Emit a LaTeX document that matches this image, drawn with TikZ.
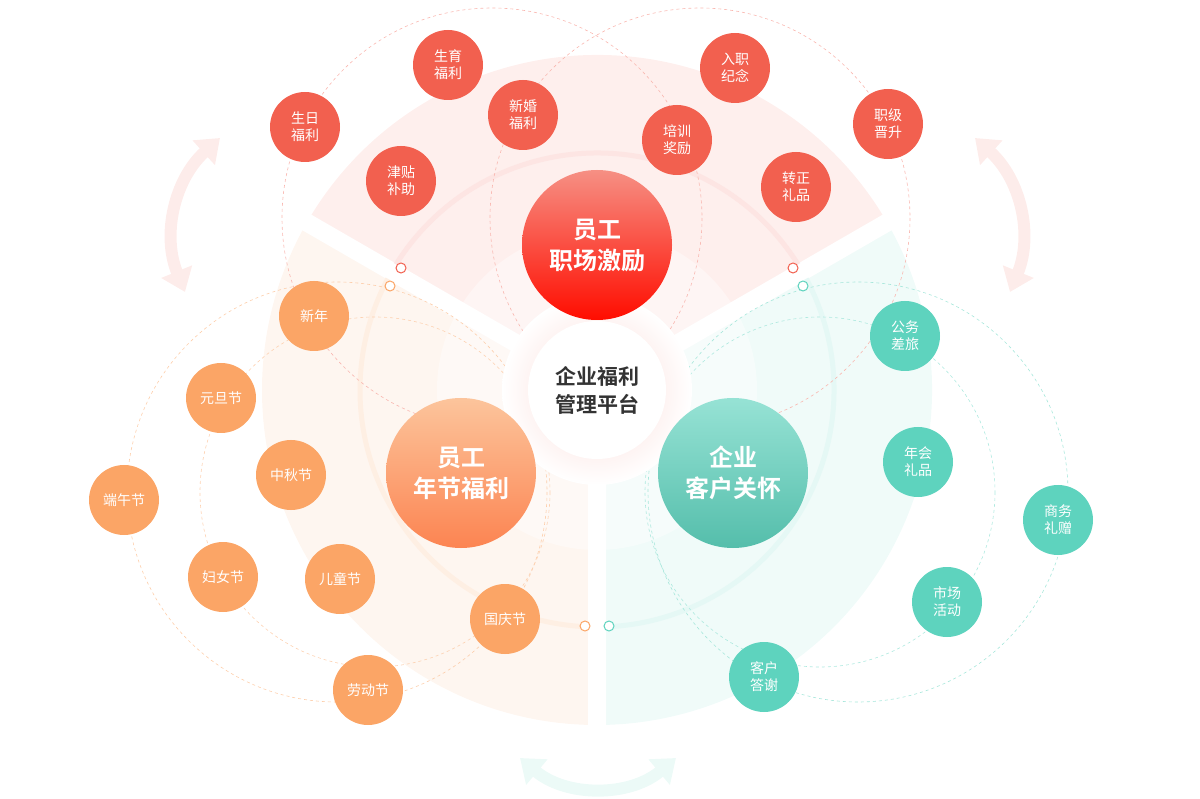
\documentclass[tikz,border=0pt]{standalone}
\usepackage{fontspec}
\setmainfont{Noto Sans CJK SC}
\newfontfamily\cjkb{Noto Sans CJK SC Bold}
\usetikzlibrary{arrows.meta}
\definecolor{rd}{HTML}{F2604F}
\definecolor{og}{HTML}{FBA566}
\definecolor{tl}{HTML}{5ED3BE}
\begin{document}
\begin{tikzpicture}[x=1pt,y=-1pt,
 sm/.style={circle,minimum size=70pt,inner sep=0pt,text=white,font=\fontsize{14}{17}\selectfont,align=center},
 big/.style={circle,minimum size=150pt,inner sep=0pt,text=white,font=\cjkb\fontsize{24}{31}\selectfont,align=center},
 dc/.style={dashed,dash pattern=on 3pt off 3pt,line width=0.6pt},
 mk/.style={circle,fill=white,minimum size=10pt,inner sep=0pt,line width=1pt},
 arr/.style={line width=12pt,{Triangle[length=22pt,width=32pt]}-{Triangle[length=22pt,width=32pt]}}]
\useasboundingbox (0,0) rectangle (1200,799);
\coordinate (c) at (597,390);
% sectors
\fill[rd!10] (c) -- ++(210:335) arc[start angle=210,end angle=330,radius=335] -- cycle;
\fill[og!10] (c) -- ++(90:335) arc[start angle=90,end angle=210,radius=335] -- cycle;
\fill[tl!9] (c) -- ++(-30:335) arc[start angle=-30,end angle=90,radius=335] -- cycle;
\fill[white,opacity=0.4] (c) circle (160);
\draw[white,line width=18pt] (c) -- ++(210:345) (c) -- ++(330:345) (c) -- ++(90:345);
\draw[rd!16,line width=5pt] (c) ++(212:237) arc[start angle=212,end angle=328,radius=237];
\draw[og!18,line width=5pt] (c) ++(92:237) arc[start angle=92,end angle=208,radius=237];
\draw[tl!16,line width=5pt] (c) ++(-28:237) arc[start angle=-28,end angle=88,radius=237];
% dashed circles
\draw[dc,rd!45] (492,218) circle (210);
\draw[dc,rd!45] (700,218) circle (210);
\draw[dc,og!55] (337,492) circle (210);
\draw[dc,og!50] (375,492) circle (175);
\draw[dc,tl!55] (858,492) circle (210);
\draw[dc,tl!50] (820,492) circle (175);
% arrows
\draw[arr,rd!12] (220,138) to[bend right=35] (185,292);
\draw[arr,rd!12] (975,138) to[bend left=35] (1010,292);
\draw[arr,tl!12] (520,758) to[bend right=40] (676,758);
% markers
\node[mk,draw=rd] (m1) at (401,268) {};
\node[mk,draw=rd] (m2) at (793,268) {};
\node[mk,draw=og] (m3) at (390,286) {};
\node[mk,draw=og] (m4) at (585,626) {};
\node[mk,draw=tl] (m5) at (803,286) {};
\node[mk,draw=tl] (m6) at (609,626) {};
% center
\shade[inner color=rd!25,outer color=white] (c) circle (95);
\node[circle,fill=white,minimum size=138pt,font=\cjkb\fontsize{21}{28}\selectfont,text=black!80,align=center] (hub) at (c) {企业福利\\管理平台};
\shade[top color=rd!70,bottom color=red!90!orange] (597,245) circle (75);
\node[big] (A) at (597,245) {员工\\职场激励};
\shade[top color=og!65,bottom color=og!80!red] (461,473) circle (75);
\node[big] (B) at (461,473) {员工\\年节福利};
\shade[top color=tl!65,bottom color=tl!90!black] (733,473) circle (75);
\node[big] (C) at (733,473) {企业\\客户关怀};
% small
\foreach \n/\x/\y/\t in {r1/448/65/{生育\\福利},r2/305/127/{生日\\福利},r3/523/115/{新婚\\福利},r4/401/181/{津贴\\补助},r5/735/68/{入职\\纪念},r6/677/140/{培训\\奖励},r7/888/124/{职级\\晋升},r8/796/187/{转正\\礼品}}
  \node[sm,fill=rd] (\n) at (\x,\y) {\t};
\foreach \n/\x/\y/\t in {o1/314/316/新年,o2/221/398/元旦节,o3/291/475/中秋节,o4/124/500/端午节,o5/223/577/妇女节,o6/340/579/儿童节,o7/505/619/国庆节,o8/368/690/劳动节}
  \node[sm,fill=og] (\n) at (\x,\y) {\t};
\foreach \n/\x/\y/\t in {t1/905/336/{公务\\差旅},t2/918/462/{年会\\礼品},t3/1058/520/{商务\\礼赠},t4/947/602/{市场\\活动},t5/764/677/{客户\\答谢}}
  \node[sm,fill=tl] (\n) at (\x,\y) {\t};
\end{tikzpicture}
\end{document}
